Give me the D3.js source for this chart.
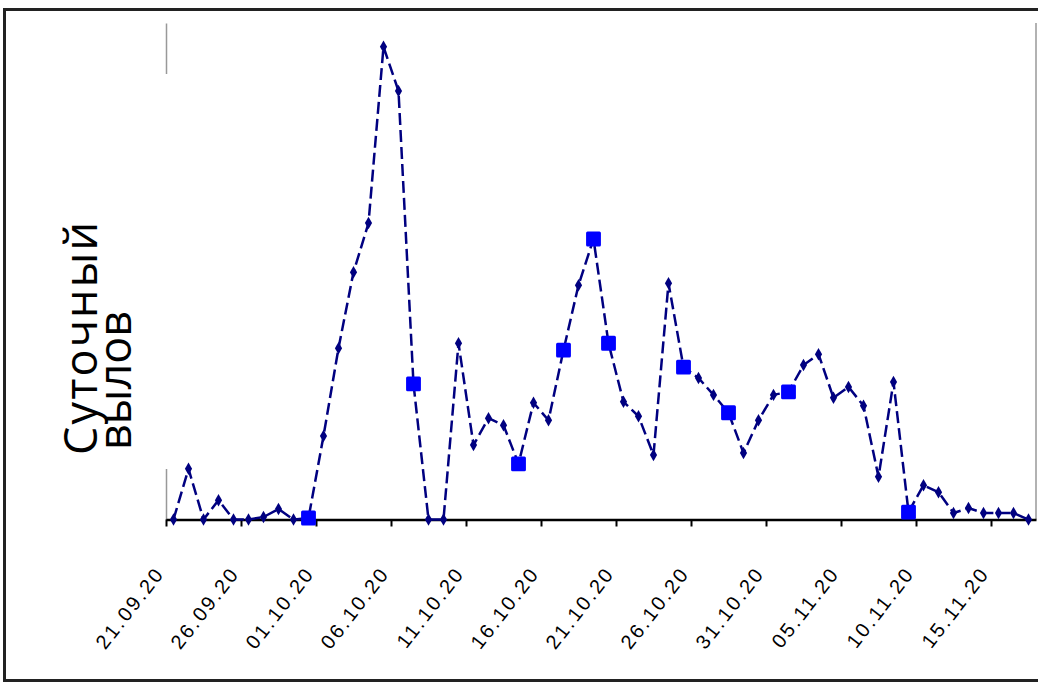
<!DOCTYPE html>
<html>
<head>
<meta charset="utf-8">
<script src="https://cdn.jsdelivr.net/npm/d3@7"></script>
<style>
  body { margin: 0; background: #fff; }
  svg { display: block; }
</style>
</head>
<body>
<div id="chart"></div>
<script>
// daily dates, 21.09 .. 17.11
const dates = ["21.09","22.09","23.09","24.09","25.09","26.09","27.09","28.09","29.09","30.09",
  "01.10","02.10","03.10","04.10","05.10","06.10","07.10","08.10","09.10","10.10",
  "11.10","12.10","13.10","14.10","15.10","16.10","17.10","18.10","19.10","20.10",
  "21.10","22.10","23.10","24.10","25.10","26.10","27.10","28.10","29.10","30.10",
  "31.10","01.11","02.11","03.11","04.11","05.11","06.11","07.11","08.11","09.11",
  "10.11","11.11","12.11","13.11","14.11","15.11","16.11","17.11"];

// суточный вылов (relative units, no scale on the original)
const catchValues = [0, 10.2, 0, 3.9, 0, 0, 0.5, 2.1, 0, 0.3,
  16.8, 34.5, 49.8, 59.7, 95.2, 86.3, 27.3, 0, 0, 35.5,
  15.0, 20.4, 19.0, 11.2, 23.5, 20.0, 34.1, 47.2, 56.5, 35.5,
  23.7, 20.8, 13.0, 47.6, 30.7, 28.5, 25.1, 21.5, 13.4, 20.0,
  25.1, 25.7, 31.1, 33.3, 24.5, 26.7, 22.9, 8.6, 27.7, 1.5,
  6.9, 5.5, 1.3, 2.3, 1.3, 1.3, 1.3, 0];

// points drawn with the large blue marker
const highlighted = [9, 16, 23, 26, 28, 29, 34, 37, 41, 49];

// labelled ticks (every 5 days)
const tickLabels = ["21.09.20","26.09.20","01.10.20","06.10.20","11.10.20","16.10.20",
  "21.10.20","26.10.20","31.10.20","05.11.20","10.11.20","15.11.20"];

const yTitle = ["Суточный", "вылов"];

const W = 1038, H = 684;
const plot = { left: 166, right: 1036, top: 23, bottom: 519.5 };

const svg = d3.select("#chart").append("svg")
    .attr("width", W)
    .attr("height", H);

svg.append("rect").attr("width", W).attr("height", H).attr("fill", "#fff");

// outer frame
svg.append("rect")
    .attr("x", 4.5).attr("y", 9.5)
    .attr("width", W + 10).attr("height", 671)
    .attr("fill", "none")
    .attr("stroke", "#222")
    .attr("stroke-width", 3);

const x = d3.scaleLinear().domain([0, dates.length]).range([plot.left, plot.right]);
const y = d3.scaleLinear().domain([0, 100]).range([plot.bottom, plot.top]);

// right border of plot area
svg.append("line")
    .attr("x1", plot.right).attr("x2", plot.right)
    .attr("y1", y(100)).attr("y2", y(0))
    .attr("stroke", "#999").attr("stroke-width", 1.5);

// y axis (only partly visible in the original)
const gy = svg.append("g")
    .attr("transform", "translate(" + plot.left + ",0)")
    .call(d3.axisLeft(y).tickValues([]).tickSizeOuter(0));
gy.select(".domain")
    .attr("stroke", "#999")
    .attr("stroke-width", 1.5)
    .attr("stroke-dasharray", "51,395,60");

// x axis
const gx = svg.append("g")
    .attr("transform", "translate(0," + plot.bottom + ")")
    .call(d3.axisBottom(x)
        .tickValues(d3.range(0, dates.length, 5))
        .tickSize(7)
        .tickSizeOuter(0)
        .tickFormat((d, i) => tickLabels[i]));
gx.select(".domain").attr("stroke", "#000").attr("stroke-width", 2.5);
gx.selectAll(".tick line").attr("stroke", "#000").attr("stroke-width", 2);
gx.selectAll(".tick text")
    .attr("x", 0).attr("y", 0).attr("dy", 0)
    .attr("text-anchor", "end")
    .attr("transform", "translate(-1,54) rotate(-52)")
    .attr("font-family", "Liberation Sans, Arial, sans-serif")
    .attr("font-size", 20)
    .attr("letter-spacing", 2.5)
    .attr("fill", "#000");

// line
const line = d3.line()
    .x((d, i) => x(i + 0.5))
    .y(d => y(d));

svg.append("path")
    .datum(catchValues)
    .attr("d", line)
    .attr("fill", "none")
    .attr("stroke", "#000080")
    .attr("stroke-width", 2.5)
    .attr("stroke-dasharray", "12,5");

// small markers
svg.append("g").selectAll("path")
    .data(catchValues)
    .enter()
    .append("path")
    .attr("d", d3.symbol(d3.symbolDiamond, 45))
    .attr("transform", (d, i) => "translate(" + x(i + 0.5) + "," + y(d) + ")")
    .attr("fill", "#000080");

// large blue markers
svg.append("g").selectAll("path")
    .data(highlighted)
    .enter()
    .append("path")
    .attr("d", d3.symbol(d3.symbolSquare, 140))
    .attr("transform", i => "translate(" + x(i + 0.5) + "," + y(catchValues[i]) + ")")
    .attr("fill", "#0000ff")
    .attr("stroke", "#0000ff")
    .attr("stroke-width", 3)
    .attr("stroke-linejoin", "round");

// y title
svg.append("text")
    .attr("transform", "translate(97,455) rotate(-90)")
    .attr("font-family", "Open Sans, sans-serif")
    .attr("font-size", 45)
    .attr("fill", "#000")
    .selectAll("tspan")
    .data(yTitle)
    .enter()
    .append("tspan")
    .attr("x", (d, i) => i === 0 ? 0 : 5)
    .attr("dy", (d, i) => i === 0 ? 0 : 34)
    .attr("textLength", (d, i) => i === 0 ? 233 : null)
    .attr("lengthAdjust", "spacing")
    .text(d => d);
</script>
</body>
</html>
